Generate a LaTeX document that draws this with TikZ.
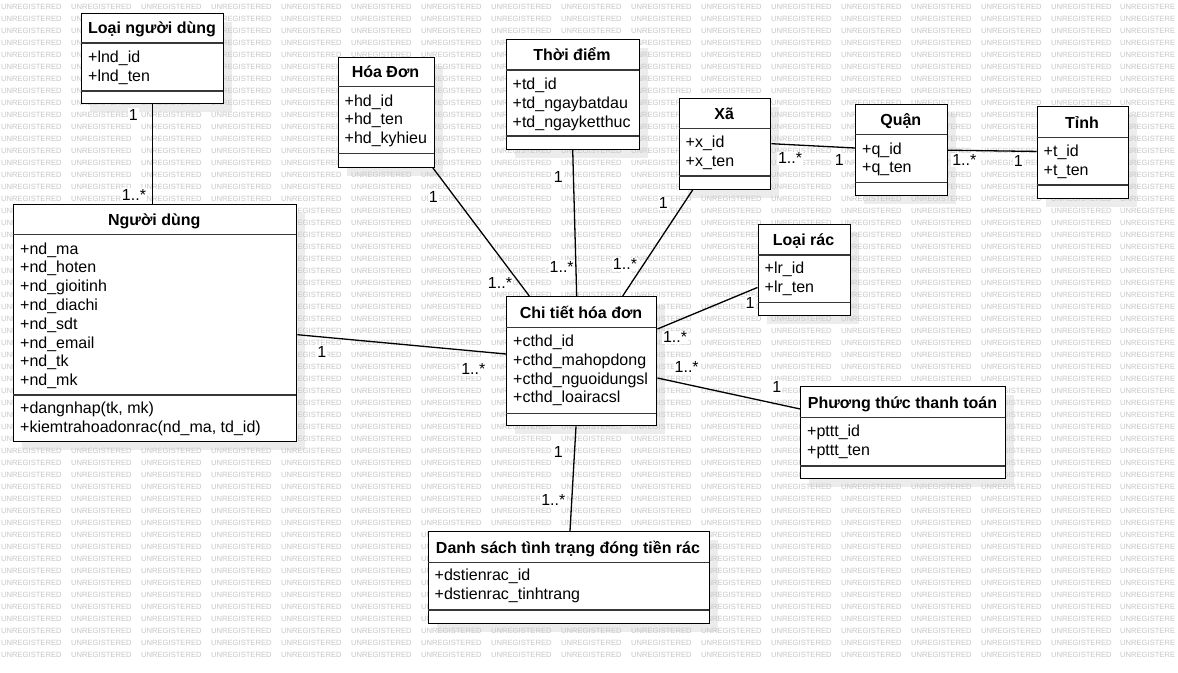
\documentclass[tikz,border=0pt]{standalone}
\usepackage{fontspec}
\setmainfont{Liberation Sans}
\usetikzlibrary{calc}
\definecolor{shadowc}{RGB}{236,236,236}
\definecolor{wmc}{RGB}{198,198,198}
\definecolor{divc}{RGB}{55,55,55}
\pgfdeclarelayer{bg}
\pgfdeclarelayer{shadow}
\pgfdeclarelayer{wm}
\pgfdeclarelayer{lines}
\pgfsetlayers{bg,shadow,wm,lines,main}
\tikzset{
  cls/.style={draw=black, line width=1.4pt, fill=white, inner sep=0pt},
  divline/.style={draw=divc, line width=1.4pt},
  ctitle/.style={inner sep=0pt, font=\bfseries\fontsize{16}{19}\selectfont},
  attr/.style={inner sep=0pt, font=\fontsize{16}{19}\selectfont},
  mult/.style={fill=white, inner sep=1pt, font=\fontsize{16}{19}\selectfont},
  conn/.style={draw=black, line width=1.3pt},
  wm/.style={inner sep=0pt, anchor=west, text=wmc, font=\fontsize{7.6}{9}\selectfont}
}
% name, x1, y1, x2, y2, header line y, divider y, title
\newcommand\umlclass[8]{%
  \begin{pgfonlayer}{shadow}\fill[shadowc] (#2+9,#3+9) rectangle (#4+9,#5+9);\end{pgfonlayer}
  \node[cls, anchor=north west, minimum width={(#4-#2)*1pt}, minimum height={(#5-#3)*1pt}] (#1) at (#2,#3) {};
  \draw[divline] (#2,#6) -- (#4,#6);
  \draw[divline] (#2,#7) -- (#4,#7);
  \node[ctitle, anchor=base] (#1-t) at ({(#2+#4)/2},#6-9.5) {#8};
}
% name, x, first baseline, list
\newcommand\umlattrs[4]{%
  \foreach \t [count=\i] in {#4} {
    \node[attr, anchor=base west] (#1-\i) at (#2, #3+18.8*\i-18.8) {\t};
  }
}
\begin{document}
\begin{tikzpicture}[x=1pt,y=-1pt]
\useasboundingbox (0,0) rectangle (1178,672);
\begin{pgfonlayer}{bg}
  \fill[white] (0,0) rectangle (1178,672);
\end{pgfonlayer}
\begin{pgfonlayer}{wm}
  \foreach \r in {0,...,54} {
    \foreach \c in {0,...,15} {
      \node[wm] (wm-\r-\c) at (70*\c+1, 7+12*\r) {UNREGISTERED};
    }
    \node[wm] (wm-\r-16) at (1120, 7+12*\r) {UNREGISTERE};
  }
\end{pgfonlayer}

% classes
\umlclass{lnd}{81}{13}{223}{103}{43}{91}{Loại người dùng}
\umlattrs{lnd-a}{88}{62.5}{+lnd\_id,+lnd\_ten}

\umlclass{nd}{12.5}{204}{296}{441}{234.5}{395}{Người dùng}
\umlattrs{nd-a}{20}{254}{+nd\_ma,+nd\_hoten,+nd\_gioitinh,+nd\_diachi,+nd\_sdt,+nd\_email,+nd\_tk,+nd\_mk}
\umlattrs{nd-m}{20}{413.8}{{+dangnhap(tk, mk)},{+kiemtrahoadonrac(nd\_ma, td\_id)}}

\umlclass{hd}{337.5}{56.5}{433.5}{166.5}{86.5}{153.5}{Hóa Đơn}
\umlattrs{hd-a}{344.5}{106}{+hd\_id,+hd\_ten,+hd\_kyhieu}

\umlclass{td}{505.5}{39}{638.5}{148.5}{70}{136}{Thời điểm}
\umlattrs{td-a}{512.5}{89.5}{+td\_id,+td\_ngaybatdau,+td\_ngayketthuc}

\umlclass{xa}{678.5}{97.5}{770}{188.5}{128.5}{176}{Xã}
\umlattrs{xa-a}{685.5}{147.8}{+x\_id,+x\_ten}

\umlclass{qu}{855}{104}{946.5}{195}{134.5}{182.5}{Quận}
\umlattrs{qu-a}{862}{154}{+q\_id,+q\_ten}

\umlclass{ti}{1036.5}{106}{1127.5}{197.5}{137.5}{185}{Tỉnh}
\umlattrs{ti-a}{1043.5}{156.5}{+t\_id,+t\_ten}

\umlclass{lr}{757.5}{224}{849.5}{314.5}{255}{302.5}{Loại rác}
\umlattrs{lr-a}{764.5}{273.5}{+lr\_id,+lr\_ten}

\umlclass{ct}{506}{296}{656}{425}{327.5}{413.5}{Chi tiết hóa đơn}
\umlattrs{ct-a}{513}{346.5}{+cthd\_id,+cthd\_mahopdong,+cthd\_nguoidungsl,+cthd\_loairacsl}

\umlclass{pt}{800}{386}{1005}{477.5}{417.5}{466}{Phương thức thanh toán}
\umlattrs{pt-a}{807}{436.5}{+pttt\_id,+pttt\_ten}

\umlclass{ds}{427.5}{531}{708.5}{622.5}{562.5}{610}{Danh sách tình trạng đóng tiền rác}
\umlattrs{ds-a}{434.5}{580.5}{+dstienrac\_id,+dstienrac\_tinhtrang}

% multiplicities and connectors
\begin{pgfonlayer}{lines}
  \node[mult] (m1a) at (133.3,115) {1};
  \node[mult] (m1b) at (134,195) {1..*};
  \node[mult] (m2a) at (433.3,197.3) {1};
  \node[mult] (m2b) at (500,283.3) {1..*};
  \node[mult] (m3a) at (558.3,177.3) {1};
  \node[mult] (m3b) at (561.7,266.7) {1..*};
  \node[mult] (m4a) at (663.3,203.3) {1};
  \node[mult] (m4b) at (625,264) {1..*};
  \node[mult] (m5a) at (750,302.7) {1};
  \node[mult] (m5b) at (675,337.3) {1..*};
  \node[mult] (m6a) at (776.7,386.7) {1};
  \node[mult] (m6b) at (686.7,367.3) {1..*};
  \node[mult] (m7a) at (321.7,351.7) {1};
  \node[mult] (m7b) at (473.3,369.3) {1..*};
  \node[mult] (m8a) at (558.3,451.7) {1};
  \node[mult] (m8b) at (553.3,500) {1..*};
  \node[mult] (m9a) at (790,158.3) {1..*};
  \node[mult] (m9b) at (839.3,160) {1};
  \node[mult] (m10a) at (964.3,160) {1..*};
  \node[mult] (m10b) at (1018.3,160.7) {1};

  \draw[conn] (lnd.south) -- (lnd.south |- nd.north);
  \draw[conn] ([xshift=-2pt]hd.south east) -- ([xshift=23.3pt]ct.north west);
  \draw[conn] (td.south) -- ([xshift=70.7pt]ct.north west);
  \draw[conn] ([xshift=14.2pt]xa.south west) -- ([xshift=116.7pt]ct.north west);
  \draw[conn] ([yshift=-17.5pt]lr.west) -- ([yshift=32.2pt]ct.east);
  \draw[conn] ([yshift=23.5pt]pt.west) -- ([yshift=-16.8pt]ct.east);
  \draw[conn] ([yshift=-11.5pt]nd.east) -- ([yshift=7.2pt]ct.west);
  \draw[conn] ([xshift=70pt]ct.south west) -- ([xshift=142.5pt]ds.north west);
  \draw[conn] (xa.east) -- ([yshift=2.2pt]qu.west);
  \draw[conn] (qu.east) -- ([yshift=1pt]ti.west);
\end{pgfonlayer}
\end{tikzpicture}
\end{document}
